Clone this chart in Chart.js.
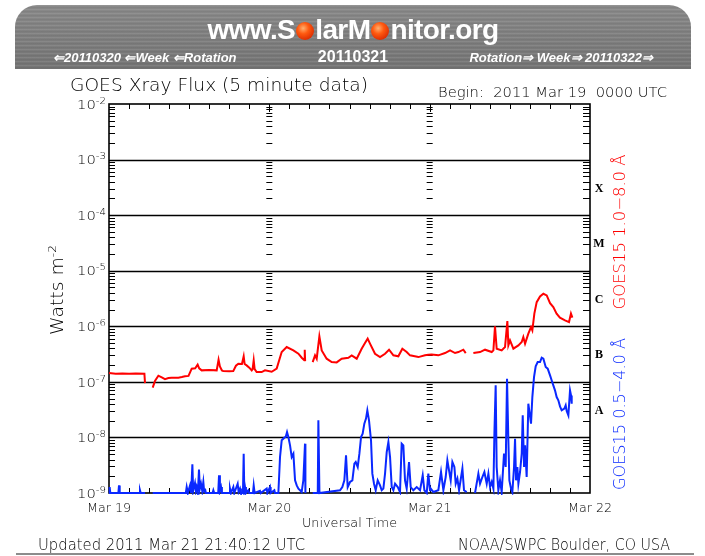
<!DOCTYPE html>
<html>
<head>
<meta charset="UTF-8">
<title>GOES Xray Flux</title>
<script src="https://cdn.jsdelivr.net/npm/chart.js@4.4.1/dist/chart.umd.min.js"></script>
<style>
  body { margin: 0; background: #fff; }
  #page { position: relative; width: 705px; height: 556px; overflow: hidden; }
  #chart { position: absolute; left: 0; top: 0; }
  #banner { position: absolute; left: 15px; top: 5px; width: 676px; height: 64px; border-radius: 22px 22px 0 0;
    background: repeating-linear-gradient(180deg, rgba(255,255,255,0.08) 0px, rgba(255,255,255,0.08) 1px, rgba(0,0,0,0.07) 2px, rgba(0,0,0,0) 4px),
                linear-gradient(180deg, #8a8a8a, #747474); }
  #site { position: absolute; left: 0; top: 9px; width: 676px; text-align: center; color: #fff;
    font: bold 28px "Liberation Sans", Arial, sans-serif; letter-spacing: -0.6px; }
  .sun { display: inline-block; width: 18px; height: 18px; border-radius: 50%; margin: 0 1px; vertical-align: -1px;
    background: radial-gradient(circle at 40% 35%, #ffb070 0%, #ff5a10 35%, #d82800 80%, #b01800 100%); }
  .nav { position: absolute; top: 45px; color: #fff; font: italic bold 13px "Liberation Sans", Arial, sans-serif; }
  #date { position: absolute; top: 43px; left: 0; width: 676px; text-align: center; color: #fff;
    font: bold 16px "Liberation Sans", Arial, sans-serif; }
</style>
</head>
<body>
<div id="page">
  <canvas id="chart" width="705" height="556"></canvas>
  <div id="banner">
    <div id="site">www.S<span class="sun"></span>larM<span class="sun"></span>nitor.org</div>
    <div class="nav" style="left:38px">&lArr;20110320 &lArr;Week &lArr;Rotation</div>
    <div id="date">20110321</div>
    <div class="nav" style="right:38px">Rotation&rArr; Week&rArr; 20110322&rArr;</div>
  </div>
</div>

<script>
// hours since 2011 Mar 19 00:00 UTC, flux in W m^-2 (null = data gap)
var redFlux = [
  [0,1.44e-7],[1,1.40e-7],[2,1.42e-7],[3,1.40e-7],[4,1.41e-7],[5.3,1.40e-7],[5.39,9.5e-8],[5.45,null],
  [6.54,7.9e-8],[6.9,1.05e-7],[7.39,1.29e-7],[7.9,1.2e-7],[8.38,1.12e-7],[8.9,1.17e-7],[9.38,1.19e-7],
  [10.38,1.19e-7],[10.9,1.22e-7],[11.38,1.26e-7],[11.9,1.28e-7],[12.38,1.73e-7],[12.9,1.75e-7],[13.27,2.04e-7],
  [13.5,1.75e-7],[13.87,1.61e-7],[15.0,1.63e-7],[16.12,1.61e-7],[16.4,2.51e-7],[16.6,1.9e-7],[16.9,1.6e-7],
  [17.1,1.56e-7],[18.0,1.55e-7],[18.6,1.56e-7],[19.0,1.95e-7],[19.36,2.12e-7],[19.9,2.1e-7],[20.16,2.88e-7],
  [20.3,2.1e-7],[20.6,1.98e-7],[21.0,1.8e-7],[21.36,1.61e-7],[21.5,1.7e-7],[21.66,2.44e-7],[21.8,1.7e-7],
  [22.1,1.50e-7],[22.85,1.50e-7],[23.35,1.61e-7],[24.35,1.52e-7],[25.1,1.73e-7],[25.85,3.44e-7],[26.6,4.23e-7],
  [27.6,3.68e-7],[28.35,3.21e-7],[28.85,2.72e-7],[29.24,2.44e-7],[29.3,3.79e-7],[29.36,2.37e-7],[29.4,null],
  [30.49,2.27e-7],[30.84,3.0e-7],[31.09,2.61e-7],[31.49,6.58e-7],[31.84,3.68e-7],[32.58,2.61e-7],[33.33,2.27e-7],
  [34.08,2.24e-7],[34.83,2.61e-7],[35.83,2.72e-7],[36.33,3.0e-7],[37.08,2.61e-7],[37.82,3.95e-7],[38.32,4.99e-7],
  [38.72,5.98e-7],[39.07,4.87e-7],[39.82,3.21e-7],[40.57,2.79e-7],[41.32,3.21e-7],[41.92,3.79e-7],[42.57,3.0e-7],
  [43.31,2.88e-7],[43.91,3.95e-7],[44.56,3.44e-7],[45.06,3.0e-7],[46.31,2.79e-7],[47.3,3.0e-7],[47.8,3.08e-7],
  [48.3,3.12e-7],[49.3,3.0e-7],[50.3,3.30e-7],[51.05,3.68e-7],[51.8,3.30e-7],[52.3,3.44e-7],[53.04,3.79e-7],
  [53.4,3.30e-7],[53.5,null],[54.54,3.30e-7],[55.54,3.44e-7],[56.29,3.79e-7],[57.29,3.44e-7],[57.54,3.68e-7],
  [57.78,9.96e-7],[58.03,3.95e-7],[58.78,3.68e-7],[59.28,4.23e-7],[59.63,1.24e-6],[59.78,4.53e-7],[60.03,5.57e-7],
  [60.53,3.95e-7],[61.28,4.53e-7],[61.78,5.20e-7],[62.02,6.40e-7],[62.28,4.87e-7],[62.77,7.36e-7],[63.17,9.68e-7],
  [63.37,8.44e-7],[63.67,1.69e-6],[64.02,2.72e-6],[64.52,3.45e-6],[65.02,3.85e-6],[65.52,3.60e-6],[66.02,2.61e-6],
  [66.51,2.21e-6],[67.0,1.69e-6],[67.5,1.43e-6],[68.26,1.28e-6],[68.86,1.19e-6],[69.15,1.69e-6],[69.36,1.43e-6]
];

var blueFlux = [
  [0,1e-9],[0.1,1.28e-9],[0.2,1e-9],[1.4,1e-9],[1.5,1.37e-9],[1.6,1e-9],[4.55,1e-9],[4.64,1.12e-9],[4.75,1e-9],
  [5.4,1e-9],[5.45,null],[6.54,1e-9],[11.5,1e-9],[11.63,1.28e-9],[11.8,1e-9],[12.13,1.37e-9],[12.3,1e-9],
  [12.48,3.28e-9],[12.6,1.1e-9],[12.87,1.51e-9],[13.0,1.1e-9],[13.12,1.28e-9],[13.3,1e-9],[13.47,2.63e-9],
  [13.6,1.2e-9],[13.77,1.47e-9],[13.95,1.1e-9],[14.12,1.58e-9],[14.25,1.05e-9],[14.37,1.2e-9],[14.5,1e-9],
  [15.5,1e-9],[15.62,1.12e-9],[15.75,1e-9],[16.35,1e-9],[16.47,2.08e-9],[16.6,1.1e-9],[16.77,1.28e-9],[16.9,1e-9],
  [18.0,1e-9],[18.11,1.2e-9],[18.25,1e-9],[18.61,1.28e-9],[18.75,1e-9],[19.26,1.47e-9],[19.4,1.05e-9],
  [19.61,1.2e-9],[19.75,1e-9],[20.05,1e-9],[20.16,5.1e-9],[20.25,1.1e-9],[20.36,1.28e-9],[20.5,1e-9],
  [20.86,1.12e-9],[21.0,1e-9],[21.55,1e-9],[21.66,1.37e-9],[21.8,1e-9],[22.6,1.09e-9],[22.7,1e-9],[23.6,1.2e-9],
  [23.7,1e-9],[24.1,1.28e-9],[24.2,1e-9],[24.75,1.12e-9],[24.85,1e-9],[25.35,1e-9],[25.6,4.44e-9],[25.85,8.87e-9],
  [26.25,9.9e-9],[26.45,1.02e-8],[26.65,1.25e-8],[26.85,1.02e-8],[27.1,7.2e-9],[27.35,4.44e-9],[27.6,5.1e-9],
  [27.85,1.69e-9],[28.1,1.37e-9],[28.35,1.2e-9],[28.6,1.12e-9],[28.84,1.04e-9],[29.09,1.69e-9],[29.34,7.73e-9],
  [29.4,1e-9],[29.45,null],[30.49,1e-9],[31.25,1e-9],[31.34,2.03e-8],[31.5,1e-9],[34.58,1.12e-9],[34.93,1.28e-9],
  [35.23,1.69e-9],[35.48,4.76e-9],[35.73,1.28e-9],[36.08,1.58e-9],[36.43,1.69e-9],[36.73,3.38e-9],[36.93,3.61e-9],
  [37.23,2.94e-9],[37.48,5.1e-9],[37.73,1.02e-8],[37.97,1.17e-8],[38.22,1.77e-8],[38.47,2.18e-8],[38.67,3.07e-8],
  [38.92,2.03e-8],[39.22,8.87e-9],[39.42,2.23e-9],[39.67,1.47e-9],[39.92,1.12e-9],[40.22,1.69e-9],[40.57,1.37e-9],
  [40.82,1.12e-9],[41.07,1.2e-9],[41.32,2.23e-9],[41.57,5.46e-9],[41.82,8.27e-9],[42.07,4.44e-9],[42.32,1.28e-9],
  [42.57,1.12e-9],[42.82,1.47e-9],[43.22,1.28e-9],[43.56,1.04e-9],[43.81,7.73e-9],[44.06,7.2e-9],[44.31,1.69e-9],
  [44.56,1.2e-9],[44.91,3.61e-9],[45.16,1.28e-9],[45.56,1.12e-9],[46.06,1.28e-9],[46.56,1.12e-9],[46.96,2.08e-9],
  [47.21,1.12e-9],[47.56,1e-9],[47.8,2.23e-9],[48.05,1.12e-9],[48.16,1.2e-9],[48.55,1.04e-9],[49.3,1.12e-9],
  [49.7,2.39e-9],[50.05,1.12e-9],[50.4,1.94e-9],[50.65,3.87e-9],[50.9,2.56e-9],[51.15,1.69e-9],[51.4,3.61e-9],
  [51.7,2.94e-9],[51.9,1.47e-9],[52.15,1.81e-9],[52.4,1.12e-9],[52.9,2.75e-9],[53.14,1.12e-9],[53.54,1.04e-9],
  [53.6,null],[54.79,1e-9],[55.29,2.23e-9],[55.54,1.47e-9],[55.89,1.94e-9],[56.19,2.39e-9],[56.54,1.47e-9],
  [56.79,2.23e-9],[57.04,1.28e-9],[57.29,1.58e-9],[57.54,1.2e-9],[57.69,1.17e-8],[57.88,8.65e-8],[58.03,2.94e-9],
  [58.28,1.12e-9],[58.53,1.69e-9],[58.78,1.04e-9],[59.13,5.1e-9],[59.38,2.94e-9],[59.58,1.14e-7],[59.78,8.87e-9],
  [59.93,1.69e-9],[60.18,1.2e-9],[60.38,1.04e-9],[60.63,2.94e-9],[60.78,9.5e-9],[60.93,1.69e-9],[61.13,2.94e-9],
  [61.28,1.47e-9],[61.53,2.39e-9],[61.78,5.1e-9],[61.93,2.5e-8],[62.13,2.94e-9],[62.28,7.2e-9],[62.52,1.94e-9],
  [62.77,4.05e-8],[62.97,2.68e-8],[63.17,1.77e-8],[63.37,5.33e-8],[63.62,1.22e-7],[63.87,1.9e-7],[64.17,2.27e-7],
  [64.52,2.27e-7],[64.77,2.72e-7],[65.02,2.61e-7],[65.37,1.85e-7],[65.67,1.73e-7],[66.02,1.31e-7],[66.27,1.06e-7],
  [66.51,8.65e-8],[66.76,7.03e-8],[67.01,5.33e-8],[67.26,4.65e-8],[67.51,3.62e-8],[67.76,3.07e-8],[68.16,3.3e-8],
  [68.36,3.78e-8],[68.51,2.99e-8],[68.76,2.5e-8],[69.01,7.03e-8],[69.16,5.71e-8],[69.26,4.05e-8]
];

var dayLabels = ['Mar 19', 'Mar 20', 'Mar 21', 'Mar 22'];
var dayHours = [0, 24, 48, 72];
var decades = [-9, -8, -7, -6, -5, -4, -3, -2];
var flareClasses = ['A', 'B', 'C', 'M', 'X'];
var flareLevels = [1e-8, 1e-7, 1e-6, 1e-5, 1e-4];

var FONT = '"DejaVu Sans", sans-serif';

function toPoints(arr) {
    return arr.map(function (p) { return {x: p[0], y: p[1]}; });
}

// draws text made of pieces (for superscripts), y = middle of the capitals
function rich(ctx, parts, x, y, o) {
    ctx.save();
    ctx.fillStyle = o.color || '#000';
    ctx.textBaseline = 'alphabetic';
    var fam = o.family || FONT;
    var wt = o.weight || 'normal';
    var w = 0;
    parts.forEach(function (p) {
        ctx.font = wt + ' ' + p.size + 'px ' + fam;
        p.w = ctx.measureText(p.t).width;
        w += p.w;
    });
    var sx = o.width ? o.width / w : 1;
    ctx.translate(x, y);
    if (o.rot) ctx.rotate(o.rot);
    ctx.scale(sx, 1);
    var cx = o.align === 'left' ? 0 : (o.align === 'right' ? -w : -w / 2);
    var base = 0.36 * parts[0].size;
    parts.forEach(function (p) {
        ctx.font = wt + ' ' + p.size + 'px ' + fam;
        ctx.fillText(p.t, cx, base + (p.dy || 0));
        cx += p.w;
    });
    ctx.restore();
}

function line(ctx, x1, y1, x2, y2) {
    ctx.beginPath();
    ctx.moveTo(x1, y1);
    ctx.lineTo(x2, y2);
    ctx.stroke();
}

var goesFrame = {
    id: 'goesFrame',
    beforeDatasetsDraw: function (chart) {
        var ctx = chart.ctx, a = chart.chartArea;
        var xs = chart.scales.x, ys = chart.scales.y;
        ctx.save();
        ctx.strokeStyle = '#000';

        // decade grid lines
        ctx.lineWidth = 1.6;
        decades.forEach(function (e) {
            if (e === -9 || e === -2) return;
            var py = Math.round(ys.getPixelForValue(Math.pow(10, e))) + 0.5;
            line(ctx, a.left, py, a.right, py);
        });

        // minor y ticks: left, right and at the day boundaries
        ctx.lineWidth = 1;
        decades.forEach(function (e) {
            if (e === -2) return;
            for (var m = 2; m <= 9; m++) {
                var py = Math.round(ys.getPixelForValue(m * Math.pow(10, e))) + 0.5;
                line(ctx, a.left, py, a.left + 6, py);
                line(ctx, a.right - 7, py, a.right, py);
                [24, 48].forEach(function (h) {
                    var px = xs.getPixelForValue(h);
                    line(ctx, px - 3, py, px + 3, py);
                });
            }
        });

        // time ticks every 3 hours, top and bottom
        for (var h = 3; h < 72; h += 3) {
            var px = Math.round(xs.getPixelForValue(h)) + 0.5;
            var len = (h % 24 === 0) ? 8 : 5;
            line(ctx, px, a.top, px, a.top + len);
            line(ctx, px, a.bottom, px, a.bottom - len);
        }

        // frame
        ctx.lineWidth = 1.6;
        ctx.strokeRect(a.left, a.top, a.right - a.left, a.bottom - a.top);
        ctx.restore();
    },
    afterDraw: function (chart) {
        var ctx = chart.ctx, a = chart.chartArea;
        var xs = chart.scales.x, ys = chart.scales.y;
        var thin = '200';

        rich(ctx, [{t: 'GOES Xray Flux (5 minute data)', size: 17}], 70, 85, {align: 'left', width: 298, weight: thin});
        rich(ctx, [{t: 'Begin:  2011 Mar 19  0000 UTC', size: 14}], 438, 92, {align: 'left', width: 229, weight: thin});

        decades.forEach(function (e) {
            var py = ys.getPixelForValue(Math.pow(10, e));
            rich(ctx, [{t: '10', size: 13}, {t: '-' + (-e), size: 9, dy: -5}], 106, py, {align: 'right', width: 29, weight: thin});
        });

        rich(ctx, [{t: 'Watts m', size: 17}, {t: '-2', size: 11, dy: -7}], 57, 290, {rot: -Math.PI / 2, width: 90, weight: thin});

        dayHours.forEach(function (h, i) {
            rich(ctx, [{t: dayLabels[i], size: 13}], xs.getPixelForValue(h), 507, {width: 44, weight: thin});
        });
        rich(ctx, [{t: 'Universal Time', size: 13}], (a.left + a.right) / 2, 522, {width: 95, weight: thin});

        rich(ctx, [{t: 'Updated 2011 Mar 21 21:40:12 UTC', size: 15}], 38, 545, {align: 'left', width: 267, weight: thin});
        rich(ctx, [{t: 'NOAA/SWPC Boulder, CO USA', size: 15}], 458, 545, {align: 'left', width: 212, weight: thin});

        flareClasses.forEach(function (c, i) {
            var py = ys.getPixelForValue(flareLevels[i] * Math.sqrt(10));
            rich(ctx, [{t: c, size: 12}], 599, py, {weight: 'bold', family: '"Liberation Serif", serif'});
        });

        rich(ctx, [{t: 'GOES15 1.0\u22128.0 \u00c5', size: 16}], 619, 232, {rot: -Math.PI / 2, width: 155, color: '#ff0000', weight: thin});
        rich(ctx, [{t: 'GOES15 0.5\u22124.0 \u00c5', size: 16}], 619, 414, {rot: -Math.PI / 2, width: 152, color: '#0a2aff', weight: thin});

        ctx.save();
        ctx.strokeStyle = '#8c8c8c';
        ctx.lineWidth = 2;
        line(ctx, 16, 554, 694, 554);
        ctx.restore();
    }
};

var chart = new Chart(document.getElementById('chart'), {
    type: 'line',
    data: {
        datasets: [
            {label: 'GOES15 1.0-8.0 A', data: toPoints(redFlux), borderColor: 'rgb(255,0,0)', borderWidth: 2, clip: 2},
            {label: 'GOES15 0.5-4.0 A', data: toPoints(blueFlux), borderColor: 'rgb(10,40,255)', borderWidth: 2, clip: 2}
        ]
    },
    options: {
        responsive: false,
        animation: false,
        devicePixelRatio: 1,
        spanGaps: false,
        layout: {padding: {left: 109, right: 115, top: 104, bottom: 63}},
        elements: {point: {radius: 0}, line: {tension: 0}},
        plugins: {legend: {display: false}, tooltip: {enabled: false}},
        scales: {
            x: {type: 'linear', min: 0, max: 72, display: false},
            y: {type: 'logarithmic', min: 1e-9, max: 1e-2, display: false}
        }
    },
    plugins: [goesFrame]
});
</script>
</body>
</html>
